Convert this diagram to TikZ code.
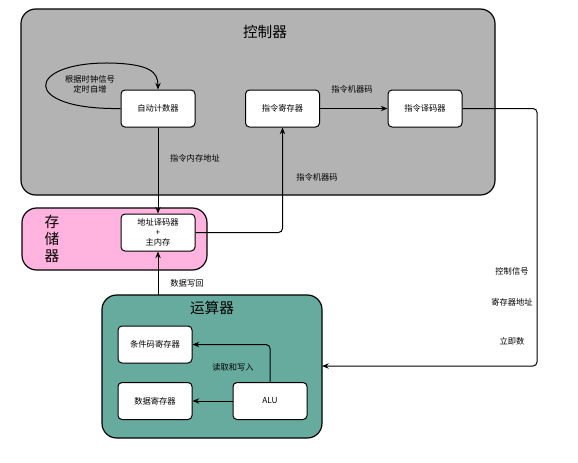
\documentclass[tikz,border=0pt]{standalone}
\usepackage{fontspec}
\setmainfont{Noto Sans CJK SC}
\usetikzlibrary{arrows.meta}
\definecolor{ctrlgray}{HTML}{B3B3B3}
\definecolor{mempink}{HTML}{FFB3DE}
\definecolor{alugreen}{HTML}{67AB9F}
\tikzset{
  px/.style={x=0.75pt,y=-0.75pt},
  group/.style={draw=black,line width=0.9pt,rounded corners=11pt},
  unit/.style={draw=black,fill=white,line width=0.75pt,rounded corners=3pt,minimum width=55.5pt,minimum height=27.75pt,inner sep=1pt,font=\fontsize{6.2pt}{7.5pt}\selectfont,align=center},
  lbl/.style={font=\fontsize{6.2pt}{7.5pt}\selectfont,inner sep=0pt,align=center},
  ttl/.style={font=\fontsize{11pt}{13pt}\selectfont,inner sep=0pt,align=center},
  conn/.style={draw=black,line width=0.75pt,-{Stealth[length=5pt,width=4pt]},rounded corners=3pt}
}
\begin{document}
\begin{tikzpicture}[px]
\useasboundingbox (0,0) rectangle (578,462);
% groups
\draw[group,fill=ctrlgray] (21,9) rectangle (495,195);
\node[ttl] (tctrl) at (265,32) {控制器};
\draw[group,fill=mempink] (22,208) rectangle (207,270);
\node[ttl,text width=14pt] (tmem) at (52,239) {存\\储\\器};
\draw[group,fill=alugreen] (102,295) rectangle (322,438);
\node[ttl] (talu) at (212,308) {运算器};
\coordinate (aluN) at (158,295);
\coordinate (aluE) at (322,366);
% units
\node[unit] (pc) at (158,108.5) {自动计数器};
\node[unit] (ir) at (282.5,108.5) {指令寄存器};
\node[unit] (dec) at (425,108.5) {指令译码器};
\node[unit] (mem) at (158,232.5) {地址译码器\\+\\主内存};
\node[unit] (cc) at (155,344.5) {条件码寄存器};
\node[unit] (dr) at (155,401) {数据寄存器};
\node[unit] (alu) at (270,401) {ALU};
% connectors
\draw[line width=0.75pt,-{Stealth[length=5pt,width=4pt]}] (pc.west) .. controls (20,110) and (25,62) .. (110,63) .. controls (150,64) and (158,72) .. (pc.north);
\node[lbl] (loop) at (90,84) {根据时钟信号\\定时自增};
\draw[conn] (ir.east) -- (dec.west);
\node[lbl] (l1) at (352,89) {指令机器码};
\draw[conn] (pc.south) -- (mem.north);
\node[lbl] (l2) at (195,158) {指令内存地址};
\draw[conn] (mem.east) -| (ir.south);
\node[lbl] (l3) at (317,177) {指令机器码};
\draw[conn] (aluN) -- (mem.south);
\node[lbl] (l4) at (187,283) {数据写回};
\draw[conn] (dec.east) -| (537,250) |- (aluE);
\node[lbl] (l5) at (512,271) {控制信号};
\node[lbl] (l6) at (512,302) {寄存器地址};
\node[lbl] (l7) at (512,341) {立即数};
\draw[conn] (alu.north) |- (cc.east);
\draw[conn] (alu.west) -- (dr.east);
\node[lbl] (l8) at (233,367) {读取和写入};
\end{tikzpicture}
\end{document}
